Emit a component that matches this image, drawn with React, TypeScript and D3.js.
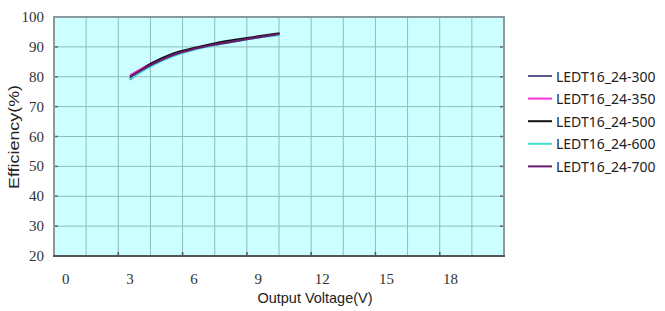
import React from 'react';
import * as d3 from 'd3';

// output voltage (V)
const voltage = [3, 4, 5, 6, 7, 8, 9, 10];

// efficiency (%) per model
const eff300 = [79, 83.8, 87, 89.2, 90.8, 92, 93.2, 94.3];
const eff350 = [80.5, 84.5, 87.5, 89.5, 91, 92.2, 93.3, 94.5];
const eff500 = [79.5, 84.5, 87.8, 89.7, 91.3, 92.5, 93.6, 94.6];
const eff600 = [79.2, 83.5, 86.8, 89, 90.5, 91.8, 93, 93.8];
const eff700 = [80, 84, 87.2, 89.3, 90.8, 92, 93.2, 94.3];

const seriesNames = ['LEDT16_24-300', 'LEDT16_24-350', 'LEDT16_24-500', 'LEDT16_24-600', 'LEDT16_24-700'];
const seriesValues = [eff300, eff350, eff500, eff600, eff700];
const seriesColors = ['#5b5b8c', '#ff33dd', '#111111', '#44e0d0', '#6a1a6e'];

const xTicks = [0, 3, 6, 9, 12, 15, 18];
const yTicks = [20, 30, 40, 50, 60, 70, 80, 90, 100];

const W = 665;
const H = 311;
const left = 54;
const right = 504;
const top = 17;
const bottom = 256;

export default function App() {
  const x = d3.scaleLinear().domain([-0.55, 20.5]).range([left, right]);
  const y = d3.scaleLinear().domain([20, 100]).range([bottom, top]);
  // the scanned grid has 14 columns that don't line up with the labels
  const gx = d3.scaleLinear().domain([0, 14]).range([left, right]);

  const line = d3.line<[number, number]>()
    .x(d => x(d[0]))
    .y(d => y(d[1]))
    .curve(d3.curveMonotoneX);

  const serif = '"Liberation Serif", "DejaVu Serif", serif';
  const sans = '"Liberation Sans", Arial, sans-serif';

  return (
    <svg width={W} height={H} style={{ position: 'absolute', left: 0, top: 0, background: '#fff' }}>
      {/* plot background */}
      <rect x={left} y={top} width={right - left} height={bottom - top} fill="#ccffff" />

      {/* grid */}
      {d3.range(1, 14).map(i => (
        <line key={'gx' + i} x1={gx(i)} x2={gx(i)} y1={top} y2={bottom} stroke="#8fbcbc" strokeWidth={1} />
      ))}
      {yTicks.slice(1, -1).map(t => (
        <line key={'gy' + t} x1={left} x2={right} y1={y(t)} y2={y(t)} stroke="#8fbcbc" strokeWidth={1} />
      ))}

      {/* little tick marks */}
      {d3.range(2, 14, 2).map(i => (
        <line key={'tk' + i} x1={gx(i)} x2={gx(i)} y1={bottom - 4} y2={bottom} stroke="#555" strokeWidth={1.5} />
      ))}
      {yTicks.slice(1, -1).map(t => (
        <g key={'ty' + t}>
          <line x1={left} x2={left + 4} y1={y(t)} y2={y(t)} stroke="#666" strokeWidth={1.5} />
          <line x1={right - 4} x2={right} y1={y(t)} y2={y(t)} stroke="#666" strokeWidth={1.5} />
        </g>
      ))}

      {/* frame */}
      <rect x={left} y={top} width={right - left} height={bottom - top} fill="none" stroke="#8a9a9a" strokeWidth={2} />
      <line x1={left - 1} x2={right + 1} y1={bottom} y2={bottom} stroke="#555" strokeWidth={2} />

      {/* curves */}
      {seriesValues.map((vals, i) => (
        <path
          key={seriesNames[i]}
          d={line(voltage.map((v, j) => [v, vals[j]] as [number, number])) || ''}
          fill="none"
          stroke={seriesColors[i]}
          strokeWidth={i === 4 ? 2.2 : 1.6}
        />
      ))}

      {/* y tick labels */}
      {yTicks.map(t => (
        <text key={'yl' + t} x={44} y={y(t)} textAnchor="end" dominantBaseline="central"
          fontFamily={serif} fontSize={15} fill="#333">{t}</text>
      ))}

      {/* x tick labels */}
      {xTicks.map(t => (
        <text key={'xl' + t} x={x(t)} y={279} textAnchor="middle" dominantBaseline="central"
          fontFamily={serif} fontSize={15} fill="#333">{t}</text>
      ))}

      {/* axis titles */}
      <text x={315} y={303} textAnchor="middle" fontFamily={sans} fontSize={15}
        textLength={115} lengthAdjust="spacingAndGlyphs" fill="#222">Output Voltage(V)</text>
      <text transform="translate(19,137) rotate(-90)" textAnchor="middle" fontFamily={sans} fontSize={15}
        fill="#222" textLength={104} lengthAdjust="spacingAndGlyphs">Efficiency(%)</text>

      {/* legend */}
      {seriesNames.map((name, i) => {
        const ly = 76 + i * 22.6;
        return (
          <g key={'lg' + name}>
            <line x1={528} x2={552} y1={ly} y2={ly} stroke={seriesColors[i]} strokeWidth={2} />
            <text x={556} y={ly} dominantBaseline="central" fontFamily='"Noto Sans", sans-serif'
              fontSize={14} fill="#222">{name}</text>
          </g>
        );
      })}
    </svg>
  );
}
